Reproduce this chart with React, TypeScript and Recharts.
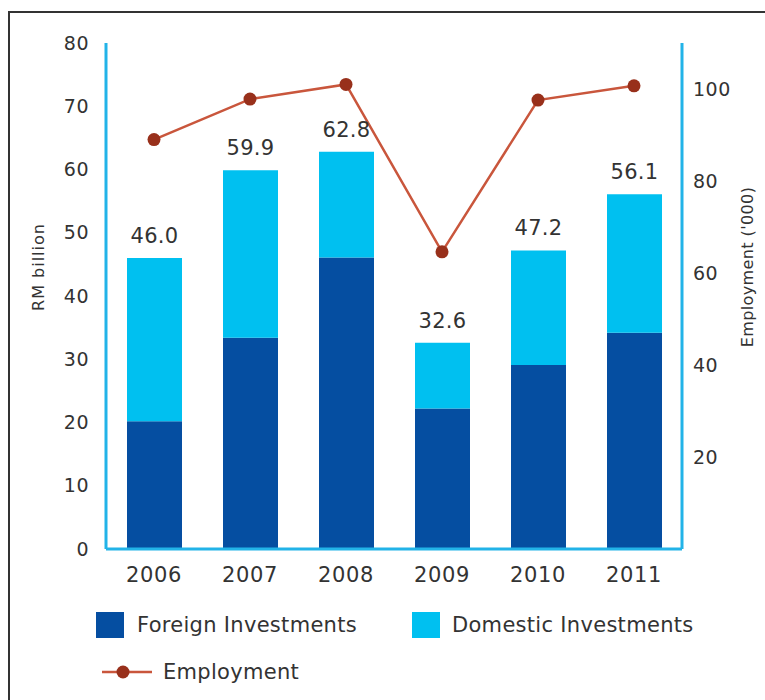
import React from "react";
import {
  Bar,
  ComposedChart,
  LabelList,
  Line,
  XAxis,
  YAxis,
} from "recharts";

const years = ["2006", "2007", "2008", "2009", "2010", "2011"];
const foreign = [20.2, 33.4, 46.1, 22.2, 29.1, 34.2];
const domestic = [25.8, 26.5, 16.7, 10.4, 18.1, 21.9];
const totals = [46.0, 59.9, 62.8, 32.6, 47.2, 56.1];
const employment = [89, 97.8, 101, 64.6, 97.6, 100.7];
const leftTicks = [0, 10, 20, 30, 40, 50, 60, 70, 80];
const rightTicks = [20, 40, 60, 80, 100];

const foreignColor = "#054ea1";
const domesticColor = "#00c0f0";
const lineColor = "#c9563c";
const dotColor = "#98301b";
const axisColor = "#22b3e8";
const textColor = "#333333";
const font = "'DejaVu Sans', Verdana, sans-serif";

const data = years.map((year, i) => ({
  year,
  foreign: foreign[i],
  domestic: domestic[i],
  total: totals[i],
  employment: employment[i],
}));

const tickStyle = { fontSize: 19, fill: textColor, fontFamily: font, letterSpacing: 0.5 };
const axisLabelStyle = { fontSize: 16, fill: textColor, fontFamily: font, textAnchor: "middle" as const };

function LegendSwatch({ color }: { color: string }) {
  return <span style={{ display: "inline-block", width: 28, height: 26, background: color }} />;
}

const legendRow = {
  position: "absolute" as const,
  display: "flex",
  alignItems: "center",
  fontSize: 21,
  letterSpacing: 0.3,
  color: textColor,
  whiteSpace: "nowrap" as const,
};

export default function App() {
  return (
    <div
      style={{
        position: "absolute",
        left: 0,
        top: 0,
        width: 765,
        height: 700,
        background: "#ffffff",
        fontFamily: font,
        overflow: "hidden",
      }}
    >
      <div style={{ position: "absolute", left: 8, top: 11, width: 2, height: 689, background: "#333" }} />
      <div style={{ position: "absolute", left: 8, top: 11, width: 757, height: 2, background: "#333" }} />
      <div style={{ position: "absolute", left: 0, top: 0 }}>
        <ComposedChart
          width={765}
          height={620}
          data={data}
          margin={{ top: 43, right: 18, left: 40, bottom: 41 }}
          barCategoryGap="21%"
        >
          <XAxis
            dataKey="year"
            tickLine={false}
            axisLine={{ stroke: axisColor, strokeWidth: 3 }}
            tick={{ ...tickStyle, fontSize: 21, letterSpacing: 0.6 }}
            tickMargin={12}
            height={30}
          />
          <YAxis
            yAxisId="left"
            domain={[0, 80]}
            ticks={leftTicks}
            interval={0}
            tickLine={false}
            axisLine={{ stroke: axisColor, strokeWidth: 3 }}
            tick={tickStyle}
            tickMargin={11}
            width={66}
            label={{
              value: "RM billion",
              angle: -90,
              position: "insideLeft",
              offset: -2,
              dy: -29,
              style: { ...axisLabelStyle, letterSpacing: 1 },
            }}
          />
          <YAxis
            yAxisId="right"
            orientation="right"
            domain={[0, 110]}
            ticks={rightTicks}
            interval={0}
            tickLine={false}
            axisLine={{ stroke: axisColor, strokeWidth: 3 }}
            tick={tickStyle}
            tickMargin={5}
            width={65}
            label={{
              value: "Employment ('000)",
              angle: -90,
              position: "insideRight",
              offset: 0,
              dy: -29,
              style: { ...axisLabelStyle, letterSpacing: 0.4 },
            }}
          />
          <Bar yAxisId="left" dataKey="foreign" stackId="inv" fill={foreignColor} barSize={55} isAnimationActive={false} />
          <Bar yAxisId="left" dataKey="domestic" stackId="inv" fill={domesticColor} barSize={55} isAnimationActive={false}>
            <LabelList
              dataKey="total"
              position="top"
              offset={15}
              formatter={(v: number) => v.toFixed(1)}
              style={{ fontSize: 21, fill: textColor, fontFamily: font, letterSpacing: 0.3 }}
            />
          </Bar>
          <Line
            yAxisId="right"
            dataKey="employment"
            stroke={lineColor}
            strokeWidth={2.5}
            dot={{ r: 6.5, fill: dotColor, stroke: dotColor, strokeWidth: 0 }}
            activeDot={false}
            isAnimationActive={false}
          />
        </ComposedChart>
      </div>
      <div style={{ ...legendRow, left: 96, top: 612 }}>
        <LegendSwatch color={foreignColor} />
        <span style={{ marginLeft: 13 }}>Foreign Investments</span>
      </div>
      <div style={{ ...legendRow, left: 412, top: 612 }}>
        <LegendSwatch color={domesticColor} />
        <span style={{ marginLeft: 12 }}>Domestic Investments</span>
      </div>
      <div style={{ ...legendRow, left: 102, top: 659 }}>
        <svg width={50} height={26}>
          <line x1={0} y1={13} x2={50} y2={13} stroke={lineColor} strokeWidth={2.5} />
          <circle cx={21} cy={13} r={6.5} fill={dotColor} />
        </svg>
        <span style={{ marginLeft: 11 }}>Employment</span>
      </div>
    </div>
  );
}
